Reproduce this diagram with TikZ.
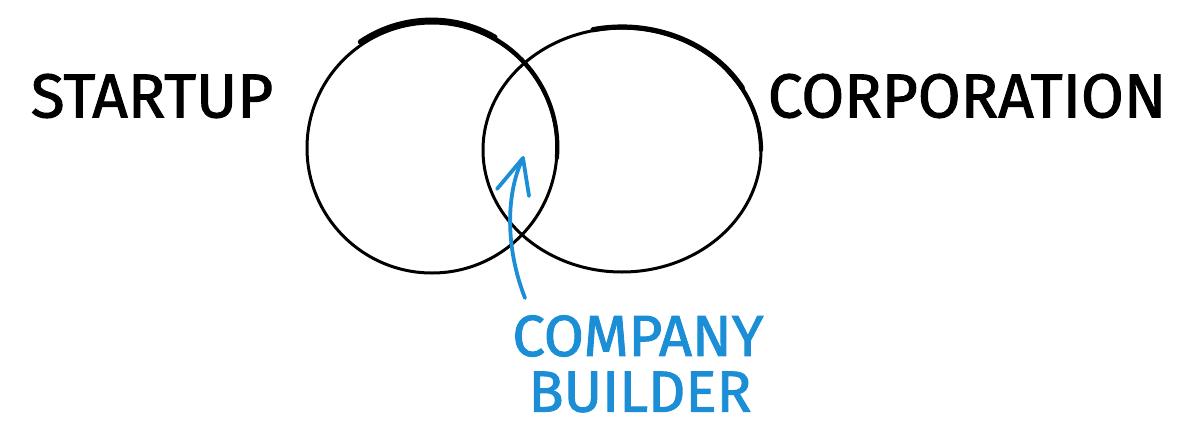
\documentclass[tikz,border=0pt]{standalone}
\usepackage{fontspec}
\setmainfont{Fira Sans}
\newfontfamily\marker{Fira Sans}[FakeBold=1.6]
\definecolor{pen}{RGB}{27,142,214}
\tikzset{every picture/.style={line width=1.5pt}}
\tikzset{
  ink/.style={line width=1.5pt, line cap=round},
  inkthick/.style={line width=2.6pt, line cap=round},
  bluepen/.style={draw=pen, line width=1.9pt, line cap=round, line join=round},
  label/.style={font=\marker\fontsize{31}{38}\selectfont, text=black},
  bluelabel/.style={font=\marker\fontsize{29}{36}\selectfont, text=pen}
}

\begin{document}
\begin{tikzpicture}[x=0.5pt,y=0.5pt,yscale=-1,xscale=1]
	\useasboundingbox (0,0) rectangle (1200,429);

	%Shape: Circle [left]
	\draw [ink] (432,148) circle [radius=125];
	%Shape: Arc [left, top stroke]
	\draw [inkthick] (432,148) ++(236:128) arc [start angle=236, end angle=300, radius=127];
	\draw [ink, line width=2.1pt] (432,148) ++(290:126) arc [start angle=290, end angle=365, radius=125];
	%Shape: Ellipse [right]
	\draw [ink] (622,150) ellipse [x radius=139, y radius=122];
	%Shape: Arc [right, top stroke]
	\draw [inkthick] (622,150) ++(258:139 and 123) arc [start angle=258, end angle=330, x radius=139, y radius=122];
	\draw [ink, line width=2.1pt] (622,150) ++(320:139 and 122) arc [start angle=320, end angle=360, x radius=139, y radius=122];

	%Arrow
	\coordinate (tail) at (525,298);
	\coordinate (tip) at (523,158);
	\coordinate (hl) at (497,189);
	\coordinate (hr) at (529,196);
	\draw [bluepen] (tail) .. controls (506,250) and (505,195) .. (tip);
	\draw [bluepen] (hl) -- (tip) -- (hr);

	% Text Node
	\draw (152,96) node (startup) [label] {STARTUP};
	% Text Node
	\draw (967,96) node (corp) [label] {CORPORATION};
	% Text Node
	\draw (638,336) node (company) [bluelabel] {COMPANY};
	% Text Node
	\draw (640,392) node (builder) [bluelabel] {BUILDER};
\end{tikzpicture}
\end{document}
